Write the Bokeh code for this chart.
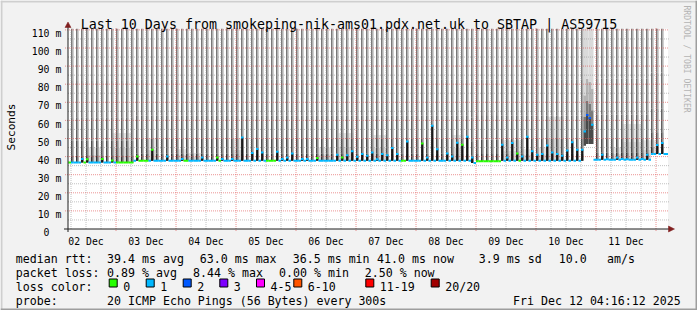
import numpy as np
from bokeh.plotting import figure
from bokeh.models import Range1d
from bokeh.core.properties import value
from bokeh.embed import file_html
from bokeh.resources import INLINE

# ------------------------------------------------------------------ data
TITLE = "Last 10 Days from smokeping-nik-ams01.pdx.net.uk to SBTAP | AS59715"
Y_TITLE = "Seconds"
WATERMARK = "RRDTOOL / TOBI OETIKER"

day_labels = ["02 Dec", "03 Dec", "04 Dec", "05 Dec", "06 Dec",
              "07 Dec", "08 Dec", "09 Dec", "10 Dec", "11 Dec"]
day_label_hours = [12, 36, 60, 84, 108, 132, 156, 180, 204, 228]  # hours after 02 Dec 00:00
ytick_values = [0, 10, 20, 30, 40, 50, 60, 70, 80, 90, 100, 110]
ytick_labels = ["0", "10 m", "20 m", "30 m", "40 m", "50 m", "60 m",
                "70 m", "80 m", "90 m", "100 m", "110 m"]

# baseline median rtt (ms) of the quiet hours
base_start = [4, 31, 166, 168, 178, 215, 238]
base_end = [31, 166, 168, 178, 215, 238, 245]
base_ms = [36.8, 37.7, 36.5, 37.4, 37.7, 38.2, 41.4]

# stretches of the quiet median with zero loss (green); otherwise 1 loss
green_start = [4, 10, 24, 33, 50, 64, 84, 138, 168, 184]
green_end = [6, 13, 31, 37, 53, 66, 88, 140, 178, 186]

# hours holding a burst of very slow pings (smoke columns)
event_hours = [6, 8, 10, 12, 14, 16, 18, 20, 22, 24, 26, 28, 30, 32, 34, 36, 38, 40,
               42, 44, 46, 48, 50, 52, 54, 56, 58, 60, 62, 64, 66, 68, 70, 72, 74, 76,
               78, 80, 82, 84, 86, 88, 90, 92, 94, 96, 98, 100, 102, 104, 106, 108,
               110, 112, 114, 116, 118, 120, 122, 124, 126, 128, 130, 132, 134, 136,
               138, 140, 142, 144, 146, 148, 150, 152, 154, 156, 158, 160, 162, 164,
               166, 168, 170, 172, 174, 176, 178, 180, 182, 184, 186, 188, 190, 192,
               194, 196, 198, 200, 202, 204, 206, 208, 210, 212, 214, 216, 218, 220,
               222, 224, 226, 228, 230, 232, 234, 236, 238, 240, 242]

# hours whose median rises above the baseline
spike_hours = [10, 12, 18, 22, 32, 38, 44, 50, 58, 64,
               66, 70, 74, 78, 80, 82, 88, 90, 92, 94,
               98, 100, 104, 112, 114, 116, 118, 120, 122, 124,
               126, 128, 130, 132, 134, 136, 140, 146, 148, 150,
               152, 156, 158, 160, 162, 164, 166, 178, 180, 182,
               184, 186, 188, 190, 192, 194, 196, 198, 200, 202,
               204, 206, 208, 210, 211, 212, 213, 214, 218, 220,
               224, 226, 228, 232, 234, 236, 238, 240, 242]
spike_ms = [38.7, 38.5, 38.7, 37.9, 40.1, 43.8, 40.0, 38.7, 39.5, 39.5,
            38.7, 38.7, 50.6, 42.0, 44.2, 42.3, 42.7, 38.7, 39.5, 41.7,
            38.7, 38.7, 39.2, 41.0, 39.5, 40.8, 42.9, 39.9, 41.4, 40.5,
            42.3, 38.5, 41.4, 40.8, 44.7, 41.4, 48.4, 47.3, 39.5, 57.1,
            44.0, 41.7, 40.0, 47.7, 46.6, 51.0, 39.5, 46.6, 39.5, 47.5,
            41.7, 40.0, 51.0, 42.9, 41.0, 41.4, 46.2, 42.3, 41.4, 40.5,
            43.4, 47.9, 43.8, 43.8, 53.9, 63.0, 61.3, 57.6, 41.0, 38.5,
            39.5, 38.7, 38.5, 39.5, 38.7, 41.0, 41.4, 46.4, 47.5]
spike_loss = [1, 0, 0, 0, 0, 0, 1, 1, 1, 0,
              1, 1, 1, 1, 1, 1, 1, 1, 1, 1,
              1, 1, 0, 1, 0, 1, 1, 1, 1, 1,
              1, 1, 1, 1, 1, 1, 1, 0, 1, 1,
              1, 1, 1, 1, 0, 1, 1, 1, 1, 1,
              0, 1, 1, 1, 1, 1, 1, 1, 1, 1,
              1, 1, 1, 1, 1, 2, 2, 1, 1, 1,
              1, 1, 1, 1, 1, 1, 1, 1, 1]

# the broad latency hump on 10 Dec: lowest ping of each hour
hump_hours = [211, 212, 213, 214]
hump_floor_ms = [46, 47, 47, 47]

# faint smoke of quiet hours: start hour, end hour, top (ms)
quiet_start = [12, 22, 36, 48, 52, 70, 105, 113, 127, 158, 178, 186, 193, 196, 222, 226, 234]
quiet_end = [18, 30, 40, 52, 58, 75, 110, 119, 132, 163, 186, 190, 199, 203, 227, 234, 241]
quiet_top = [45, 53, 50, 44, 42, 50, 45, 53, 52, 52, 49, 44, 45, 62, 45, 58, 49]

loss_labels = ["0", "1", "2", "3", "4-5", "6-10", "11-19", "20/20"]
loss_colors = ["#26ff00", "#00b8ff", "#0059ff", "#7e00ff",
               "#ff00ff", "#ff5500", "#ff0000", "#a10000"]

rtt_label = "median rtt:"
rtt_items = ["39.4 ms avg", "63.0 ms max", "36.5 ms min", "41.0 ms now",
             "3.9 ms sd", "10.0", "am/s"]
pl_label = "packet loss:"
pl_items = ["0.89 % avg", "8.44 % max", "0.00 % min", "2.50 % now"]
color_label = "loss color:"
probe_label = "probe:"
probe_text = "20 ICMP Echo Pings (56 Bytes) every 300s"
stamp_text = "Fri Dec 12 04:16:12 2025"

# ------------------------------------------------------------------ layout
W, H = 697, 310
X0, PXH = 55.5, 2.5      # pixel of 02 Dec 00:00, pixels per hour
Y0, PXMS = 228.5, 1.81   # pixel of 0 ms, pixels per ms


def hx(px):
    return (px - X0) / PXH


def my(py):
    return (Y0 - py) / PXMS


MONO = value("DejaVu Sans Mono")
C_LEFT, C_RIGHT = hx(67.5), hx(667.5)
C_TOP = my(28.3)

p = figure(width=W, height=H, x_range=Range1d(hx(0), hx(W)), y_range=Range1d(my(H), my(0)),
           output_backend="svg", toolbar_location=None, x_axis_type=None, y_axis_type=None,
           min_border=0, outline_line_color=None,
           background_fill_color="#f2f2f2", border_fill_color="#f2f2f2")

# 3-D frame of the image
p.quad(left=[hx(0), hx(0)], right=[hx(W), hx(2)], top=[my(0), my(0)], bottom=[my(2), my(H)],
       fill_color="#cfcfcf", line_color=None)
p.quad(left=[hx(0), hx(W - 2)], right=[hx(W), hx(W)], top=[my(H - 2), my(0)], bottom=[my(H), my(H)],
       fill_color="#9e9e9e", line_color=None)

# canvas
p.quad(left=[C_LEFT], right=[C_RIGHT], top=[C_TOP], bottom=[0], fill_color="white", line_color=None)


def base_at(h):
    for s, e, v in zip(base_start, base_end, base_ms):
        if s <= h < e:
            return v
    return base_ms[-1]


hours = list(range(4, 245))
spike_map = dict(zip(spike_hours, zip(spike_ms, spike_loss)))
hump_map = dict(zip(hump_hours, hump_floor_ms))

ql, qr, qb, qt, qc = [], [], [], [], []


def add(l, r, b, t, c):
    ql.append(l); qr.append(r); qb.append(b); qt.append(t); qc.append(c)


# faint smoke of quiet hours
for s, e, top in zip(quiet_start, quiet_end, quiet_top):
    for h in range(s, e):
        b = base_at(h)
        mid = b + (top - b) * 0.5
        add(max(h, C_LEFT), min(h + 1, C_RIGHT), b, mid, "#d6d6d6")
        add(max(h, C_LEFT), min(h + 1, C_RIGHT), mid, top, "#e6e6e6")

# smoke columns: (offset above median low, high, darker half, lighter half)
EV_BANDS = [(0, 4, "#333333", "#555555"), (4, 12, "#4d4d4d", "#707070"),
            (12, 25, "#626262", "#8a8a8a"), (25, 45, "#707070", "#999999"),
            (45, 300, "#787878", "#a2a2a2")]
SPLIT = 0.55
for h in event_hours:
    if h in hump_map:
        continue
    b = base_at(h)
    for lo, hi, c1, c2 in EV_BANDS:
        lo2, hi2 = b + lo, min(b + hi, C_TOP)
        if lo2 >= C_TOP:
            continue
        add(h, h + SPLIT, lo2, hi2, c1)
        add(h + SPLIT, h + 1, lo2, hi2, c2)
for h, fl in zip(hump_hours, hump_floor_ms):
    m = spike_map[h][0]
    add(h, h + 1, fl, m, "#4a4a4a")
    add(h, h + 1, m, m + 8, "#7a7a7a")
    add(h, h + 1, m + 8, m + 20, "#b4b4b4")
    add(h, h + 1, m + 20, C_TOP, "#dadada")
p.quad(left=ql, right=qr, bottom=qb, top=qt, fill_color=qc, line_color=None)

# grid
minor_v = [h for h in np.arange(6, 245, 6) if h % 24 != 0]
major_v = list(np.arange(24, 245, 24))
minor_h = list(np.arange(5, 110, 10))
major_h = [v for v in ytick_values if v > 0]
GRID_DASH = "1 1"
p.segment(x0=minor_v, x1=minor_v, y0=[0] * len(minor_v), y1=[C_TOP] * len(minor_v),
          line_color="#8f8f8f", line_alpha=0.55, line_dash=GRID_DASH, line_width=1)
p.segment(x0=[C_LEFT] * len(minor_h), x1=[hx(668.5)] * len(minor_h), y0=minor_h, y1=minor_h,
          line_color="#8f8f8f", line_alpha=0.55, line_dash=GRID_DASH, line_width=1)
p.segment(x0=major_v, x1=major_v, y0=[my(230.5)] * len(major_v), y1=[my(26.5)] * len(major_v),
          line_color="#de4f4f", line_alpha=0.6, line_dash=GRID_DASH, line_width=1)
p.segment(x0=[hx(64.5)] * len(major_h), x1=[hx(668.5)] * len(major_h), y0=major_h, y1=major_h,
          line_color="#de4f4f", line_alpha=0.6, line_dash=GRID_DASH, line_width=1)

# black stems of the median spikes
sl, sr, sb, st = [], [], [], []
for h, m, _ in zip(spike_hours, spike_ms, spike_loss):
    if h in hump_map:
        continue
    b = base_at(h)
    if m > b + 0.6:
        sl.append(h + 0.1); sr.append(h + 0.9); sb.append(b); st.append(m)
p.quad(left=sl, right=sr, bottom=sb, top=st, fill_color="#1a1a1a", line_color=None)

# median line coloured by loss
mx0, mx1, mys, mcol = [], [], [], []
for h in hours:
    if h in spike_map:
        m, lo = spike_map[h]
    else:
        m = base_at(h)
        lo = 0 if any(s <= h < e for s, e in zip(green_start, green_end)) else 1
    mx0.append(max(h, C_LEFT)); mx1.append(min(h + 1, C_RIGHT)); mys.append(m); mcol.append(loss_colors[lo])
p.segment(x0=mx0, x1=mx1, y0=mys, y1=mys, line_color=mcol, line_width=2)

# axes and arrows
p.segment(x0=[hx(63.5), C_LEFT], x1=[hx(668.5), C_LEFT], y0=[0, my(231.5)], y1=[0, my(26.5)],
          line_color="#1f1f1f", line_width=1)
p.patches(xs=[[hx(668), hx(668), hx(674)], [hx(64.5), hx(70.5), hx(67.5)]],
          ys=[[my(225.5), my(231.5), my(228.5)], [my(27), my(27), my(21.5)]],
          fill_color="#801f1f", line_color="#801f1f", line_width=0.5)

# ------------------------------------------------------------------ texts
p.text(x=[hx(348.5)], y=[my(24)], text=[TITLE], text_font=MONO, text_font_size="13.3px",
       text_align="center", text_baseline="alphabetic", text_color="black")

ylab = [t if " " in t else t + "\u00a0\u00a0" for t in ytick_labels]
p.text(x=[hx(60.8)] * len(ytick_values), y=[v - 3.6 / PXMS for v in ytick_values], text=ylab,
       text_font=MONO, text_font_size="9.8px", text_align="right", text_baseline="alphabetic",
       text_color="black")
p.text(x=day_label_hours, y=[my(240.7)] * len(day_labels), text=day_labels,
       text_font=MONO, text_font_size="9.8px", text_align="center", text_baseline="alphabetic",
       text_color="black")

p.text(x=[hx(11)], y=[my(126.5)], text=[Y_TITLE], angle=np.pi / 2, text_font=MONO,
       text_font_size="11.2px", text_align="center", text_baseline="middle", text_color="black")
p.text(x=[hx(686.5)], y=[my(5)], text=[WATERMARK], angle=-np.pi / 2, text_font=MONO,
       text_font_size="8.1px", text_align="left", text_baseline="middle", text_color="#b4b4b4")

LEG_FS = "11.6px"
rtt_x = [107.3, 200, 293, 377.3, 479, 559, 607.3]
pl_x = [107.3, 193.3, 279.3, 365]
box_x = [108.7, 145.7, 182.7, 219.3, 256, 293.3, 365.3, 430.7]
rows = [258.3, 272, 286, 300]
tx, ty, tt = [], [], []
for t, x in zip([rtt_label] + rtt_items, [16] + rtt_x):
    tx.append(hx(x - 0.7)); ty.append(my(rows[0])); tt.append(t)
for t, x in zip([pl_label] + pl_items, [16] + pl_x):
    tx.append(hx(x - 0.7)); ty.append(my(rows[1])); tt.append(t)
tx.append(hx(16 - 0.7)); ty.append(my(rows[2])); tt.append(color_label)
for t, x in zip(loss_labels, box_x):
    tx.append(hx(x + 14.7 - 0.7)); ty.append(my(rows[2])); tt.append(t)
for t, x in zip([probe_label, probe_text, stamp_text], [16, 107.3, 513.3]):
    tx.append(hx(x - 0.7)); ty.append(my(rows[3])); tt.append(t)
p.text(x=tx, y=ty, text=tt, text_font=MONO, text_font_size=LEG_FS, text_align="left",
       text_baseline="alphabetic", text_color="black")
p.quad(left=[hx(x) for x in box_x], right=[hx(x + 8) for x in box_x],
       top=[my(278.5)] * len(box_x), bottom=[my(286.5)] * len(box_x),
       fill_color=loss_colors, line_color="black", line_width=1)

open("out.html", "w").write(file_html(p, INLINE))
